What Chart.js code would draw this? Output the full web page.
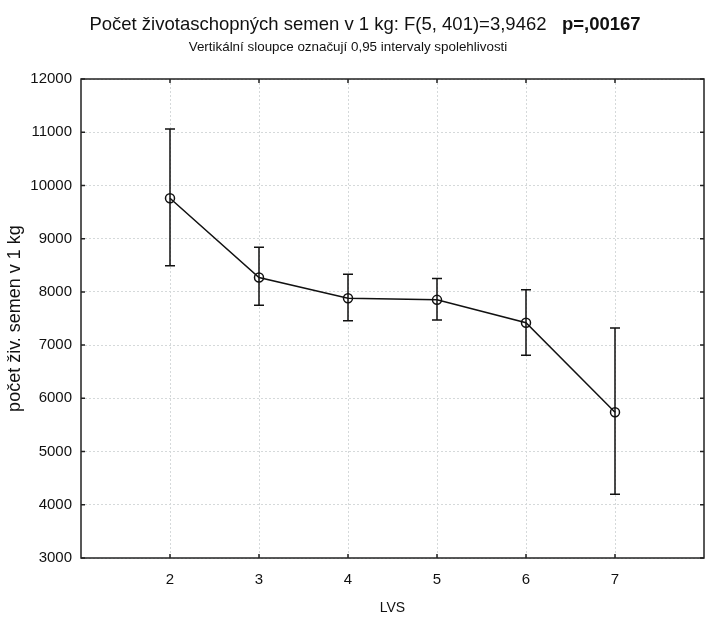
<!DOCTYPE html>
<html>
<head>
<meta charset="utf-8">
<script src="https://cdn.jsdelivr.net/npm/chart.js@4"></script>
<style>
  html, body { margin: 0; padding: 0; background: #fff; }
  #wrap { width: 710px; height: 621px; }
</style>
</head>
<body>
<div id="wrap"><canvas id="graf" width="710" height="621"></canvas></div>
<script>
// hodnoty
const lvs = [2, 3, 4, 5, 6, 7];
const prumer = [9760, 8270, 7880, 7850, 7420, 5740];
const dolni = [8490, 7750, 7460, 7470, 6810, 4200];
const horni = [11060, 8840, 8330, 8250, 8040, 7320];
const yTicks = [3000, 4000, 5000, 6000, 7000, 8000, 9000, 10000, 11000, 12000];

const nadpis = "Počet životaschopných semen v 1 kg: F(5, 401)=3,9462";
const nadpisP = "p=,00167";
const podnadpis = "Vertikální sloupce označují 0,95 intervaly spolehlivosti";

const FONT = "'Liberation Sans', Arial, sans-serif";

// chybové úsečky + rámeček + nadpis
const doplnky = {
  id: "doplnky",
  beforeDatasetsDraw(chart) {
    const { ctx, scales: { x, y } } = chart;
    ctx.save();
    ctx.strokeStyle = "#111";
    ctx.lineWidth = 1.5;
    lvs.forEach((v, i) => {
      const px = x.getPixelForValue(v);
      const top = y.getPixelForValue(horni[i]);
      const bot = y.getPixelForValue(dolni[i]);
      ctx.beginPath();
      ctx.moveTo(px, top); ctx.lineTo(px, bot);
      ctx.moveTo(px - 5, top); ctx.lineTo(px + 5, top);
      ctx.moveTo(px - 5, bot); ctx.lineTo(px + 5, bot);
      ctx.stroke();
    });
    ctx.restore();
  },
  afterDraw(chart) {
    const { ctx, chartArea: a, scales: { x, y } } = chart;
    ctx.save();
    // rámeček
    ctx.strokeStyle = "#222";
    ctx.lineWidth = 1.5;
    ctx.strokeRect(a.left, a.top, a.right - a.left, a.bottom - a.top);
    // malé značky dovnitř
    ctx.beginPath();
    lvs.forEach(v => {
      const px = x.getPixelForValue(v);
      ctx.moveTo(px, a.bottom); ctx.lineTo(px, a.bottom - 4);
      ctx.moveTo(px, a.top); ctx.lineTo(px, a.top + 4);
    });
    yTicks.forEach(v => {
      const py = y.getPixelForValue(v);
      ctx.moveTo(a.left, py); ctx.lineTo(a.left + 4, py);
      ctx.moveTo(a.right, py); ctx.lineTo(a.right - 4, py);
    });
    ctx.stroke();

    // nadpis se smíšeným písmem
    ctx.fillStyle = "#111";
    ctx.textBaseline = "alphabetic";
    const f1 = "18.5px " + FONT;
    const f2 = "bold 18.5px " + FONT;
    ctx.font = f1;
    const w1 = ctx.measureText(nadpis + "   ").width;
    ctx.font = f2;
    const w2 = ctx.measureText(nadpisP).width;
    const start = 365 - (w1 + w2) / 2;
    ctx.font = f1;
    ctx.textAlign = "left";
    ctx.fillText(nadpis, start, 30);
    ctx.font = f2;
    ctx.fillText(nadpisP, start + w1, 30);
    ctx.font = "13.4px " + FONT;
    ctx.textAlign = "center";
    ctx.fillText(podnadpis, 348, 51);
    ctx.restore();
  }
};

new Chart(document.getElementById("graf"), {
  type: "line",
  data: {
    datasets: [{
      data: lvs.map((v, i) => ({ x: v, y: prumer[i] })),
      borderColor: "#111",
      borderWidth: 1.5,
      pointStyle: "circle",
      pointRadius: 4.5,
      pointBorderWidth: 1.5,
      pointBorderColor: "#111",
      pointBackgroundColor: "rgba(255,255,255,0)",
      tension: 0
    }]
  },
  options: {
    responsive: false,
    animation: false,
    layout: { padding: { top: 79, right: 5, left: 0, bottom: 0 } },
    plugins: {
      legend: { display: false },
      tooltip: { enabled: false },
      title: { display: false }
    },
    scales: {
      x: {
        type: "linear",
        min: 1,
        max: 8,
        afterBuildTicks(s) { s.ticks = lvs.map(v => ({ value: v })); },
        afterFit(s) { s.height = 63; },
        ticks: {
          color: "#111",
          font: { family: FONT, size: 15 },
          padding: 13
        },
        grid: { color: "#d5d9da", drawTicks: false, lineWidth: 1 },
        border: { display: false, dash: [2, 2] },
        title: {
          display: true,
          text: "LVS",
          color: "#111",
          font: { family: FONT, size: 14 },
          padding: { top: 2 }
        }
      },
      y: {
        min: 3000,
        max: 12000,
        afterBuildTicks(s) { s.ticks = yTicks.map(v => ({ value: v })); },
        afterFit(s) { s.width = 81; },
        ticks: {
          color: "#111",
          font: { family: FONT, size: 15 },
          padding: 9,
          callback: v => String(v)
        },
        grid: { color: "#d5d9da", drawTicks: false, lineWidth: 1 },
        border: { display: false, dash: [2, 2] },
        title: {
          display: true,
          text: "počet živ. semen v 1 kg",
          color: "#111",
          font: { family: FONT, size: 18 },
          padding: { bottom: 0 }
        }
      }
    }
  },
  plugins: [doplnky]
});
</script>
</body>
</html>
